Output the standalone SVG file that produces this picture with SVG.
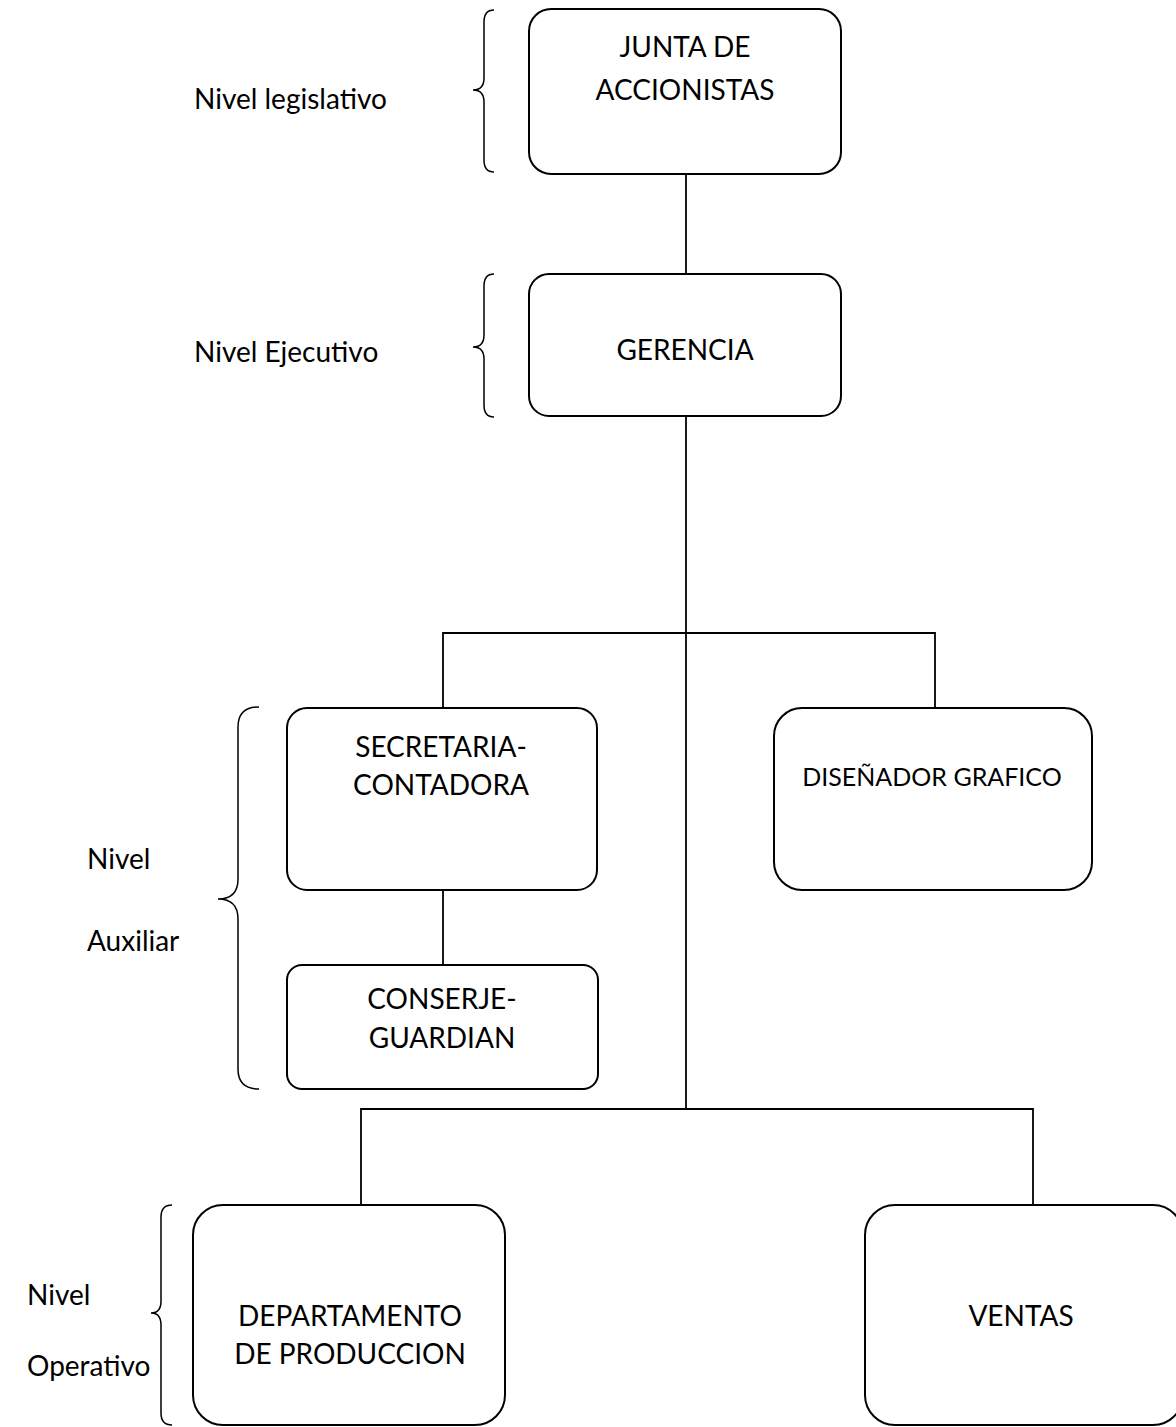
<svg xmlns="http://www.w3.org/2000/svg" width="1176" height="1427" viewBox="0 0 1176 1427">
<style>
.box{fill:#fff;stroke:#000;stroke-width:2}
.ln{fill:none;stroke:#000;stroke-width:1.8}
.br{fill:none;stroke:#000;stroke-width:1.5}
text{font-family:Lato,"Open Sans",sans-serif;font-size:28px;fill:#000}
.c{text-anchor:middle}
.s{font-size:25px}
</style>
<rect width="1176" height="1427" fill="#fff"/>
<g id="connectors">
<line class="ln" x1="686" y1="174" x2="686" y2="274"/>
<line class="ln" x1="686" y1="416" x2="686" y2="1109"/>
<polyline class="ln" points="443,708 443,633 935,633 935,708"/>
<line class="ln" x1="443" y1="890" x2="443" y2="965"/>
<polyline class="ln" points="361,1205 361,1109 1033,1109 1033,1205"/>
</g>
<g id="braces">
<path class="br" d="M494,10 Q484,10 484,22 L484,78 Q484,90 473,90 Q484,90 484,102 L484,160 Q484,172 494,172"/>
<path class="br" d="M494,274 Q484,274 484,286 L484,335 Q484,347 473,347 Q484,347 484,359 L484,405 Q484,417 494,417"/>
<path class="br" d="M259,707 Q238,707 238,727 L238,879 Q238,899 218,899 Q238,899 238,919 L238,1069 Q238,1089 259,1089"/>
<path class="br" d="M172,1205 Q161,1205 161,1217 L161,1301 Q161,1313 151,1313 Q161,1313 161,1325 L161,1413 Q161,1425 172,1425"/>
</g>
<g id="labels">
<text x="194" y="109">Nivel legislativo</text>
<text x="194" y="362">Nivel Ejecutivo</text>
<text x="87" y="869">Nivel</text>
<text x="87" y="951">Auxiliar</text>
<text x="27" y="1305">Nivel</text>
<text x="27" y="1376">Operativo</text>
</g>
<g id="junta">
<rect class="box" x="529" y="9" width="312" height="165" rx="22"/>
<text class="c" x="685" y="57">JUNTA DE</text>
<text class="c" x="685" y="100">ACCIONISTAS</text>
</g>
<g id="gerencia">
<rect class="box" x="529" y="274" width="312" height="142" rx="20"/>
<text class="c" x="685" y="360">GERENCIA</text>
</g>
<g id="secretaria">
<rect class="box" x="287" y="708" width="310" height="182" rx="20"/>
<text class="c" x="441" y="757">SECRETARIA-</text>
<text class="c" x="441" y="795">CONTADORA</text>
</g>
<g id="conserje">
<rect class="box" x="287" y="965" width="311" height="124" rx="15"/>
<text class="c" x="442" y="1009">CONSERJE-</text>
<text class="c" x="442" y="1048">GUARDIAN</text>
</g>
<g id="disenador">
<rect class="box" x="774" y="708" width="318" height="182" rx="28"/>
<text class="c s" x="932" y="786">DISEÑADOR GRAFICO</text>
</g>
<g id="departamento">
<rect class="box" x="193" y="1205" width="312" height="220" rx="30"/>
<text class="c" x="350" y="1326">DEPARTAMENTO</text>
<text class="c" x="350" y="1364">DE PRODUCCION</text>
</g>
<g id="ventas">
<rect class="box" x="865" y="1205" width="318" height="220" rx="30"/>
<text class="c" x="1021" y="1326">VENTAS</text>
</g>
</svg>
